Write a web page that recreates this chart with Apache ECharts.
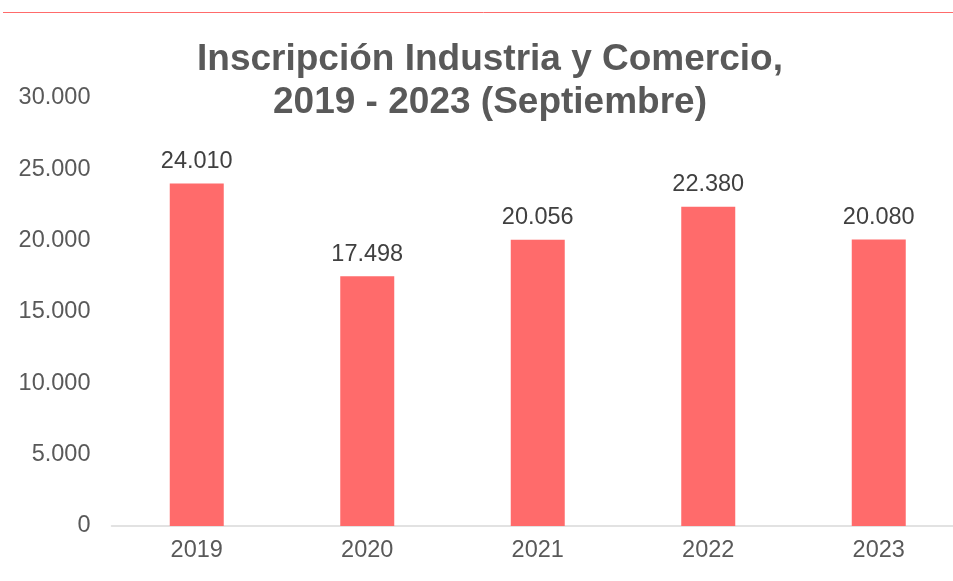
<!DOCTYPE html>
<html>
<head>
<meta charset="utf-8">
<script src="https://cdn.jsdelivr.net/npm/echarts@6/dist/echarts.min.js"></script>
<style>
  html, body { margin: 0; padding: 0; background: #fff; overflow: hidden; }
  #chart { width: 964px; height: 581px; }
</style>
</head>
<body>
<div id="chart"></div>
<script>
// datos del gráfico
const years = ["2019", "2020", "2021", "2022", "2023"];
const inscripciones = [24010, 17498, 20056, 22380, 20080];
const yTicks = [0, 5000, 10000, 15000, 20000, 25000, 30000];

const fmt = (v) => String(v).replace(/\B(?=(\d{3})+(?!\d))/g, ".");

const myChart = echarts.init(document.getElementById("chart"));

const option = {
  backgroundColor: "#ffffff",
  textStyle: { fontFamily: "Liberation Sans, Arial, sans-serif" },
  title: {
    text: "Inscripción Industria y Comercio,\n2019 - 2023 (Septiembre)",
    left: 485,
    textAlign: "center",
    top: 33,
    textStyle: {
      fontSize: 37,
      fontWeight: "bold",
      color: "#595959",
      lineHeight: 43,
      fontFamily: "Liberation Sans, Arial, sans-serif",
    },
  },
  graphic: [
    {
      type: "line",
      shape: { x1: 3, y1: 12.5, x2: 964, y2: 12.5 },
      style: { stroke: "#ff6b6b", lineWidth: 1 },
    },
  ],
  grid: {
    left: 111.5,
    right: 0,
    top: 98,
    bottom: 55,
  },
  xAxis: {
    type: "category",
    data: years,
    axisLine: { lineStyle: { color: "#d9d9d9", width: 1.5 } },
    axisTick: { show: false },
    axisLabel: {
      color: "#595959",
      fontSize: 23.5,
      margin: 13,
    },
  },
  yAxis: {
    type: "value",
    min: yTicks[0],
    max: yTicks[yTicks.length - 1],
    interval: 5000,
    splitLine: { show: false },
    axisLine: { show: false },
    axisTick: { show: false },
    axisLabel: {
      color: "#595959",
      fontSize: 23.5,
      margin: 21,
      formatter: (v) => fmt(v),
    },
  },
  series: [
    {
      name: "Inscripciones",
      type: "bar",
      data: inscripciones,
      barWidth: 54,
      itemStyle: { color: "#ff6b6b" },
      label: {
        show: true,
        position: "top",
        distance: 10,
        color: "#404040",
        fontSize: 23.5,
        formatter: (p) => fmt(p.value),
      },
    },
  ],
};

myChart.setOption(option);
</script>
</body>
</html>
